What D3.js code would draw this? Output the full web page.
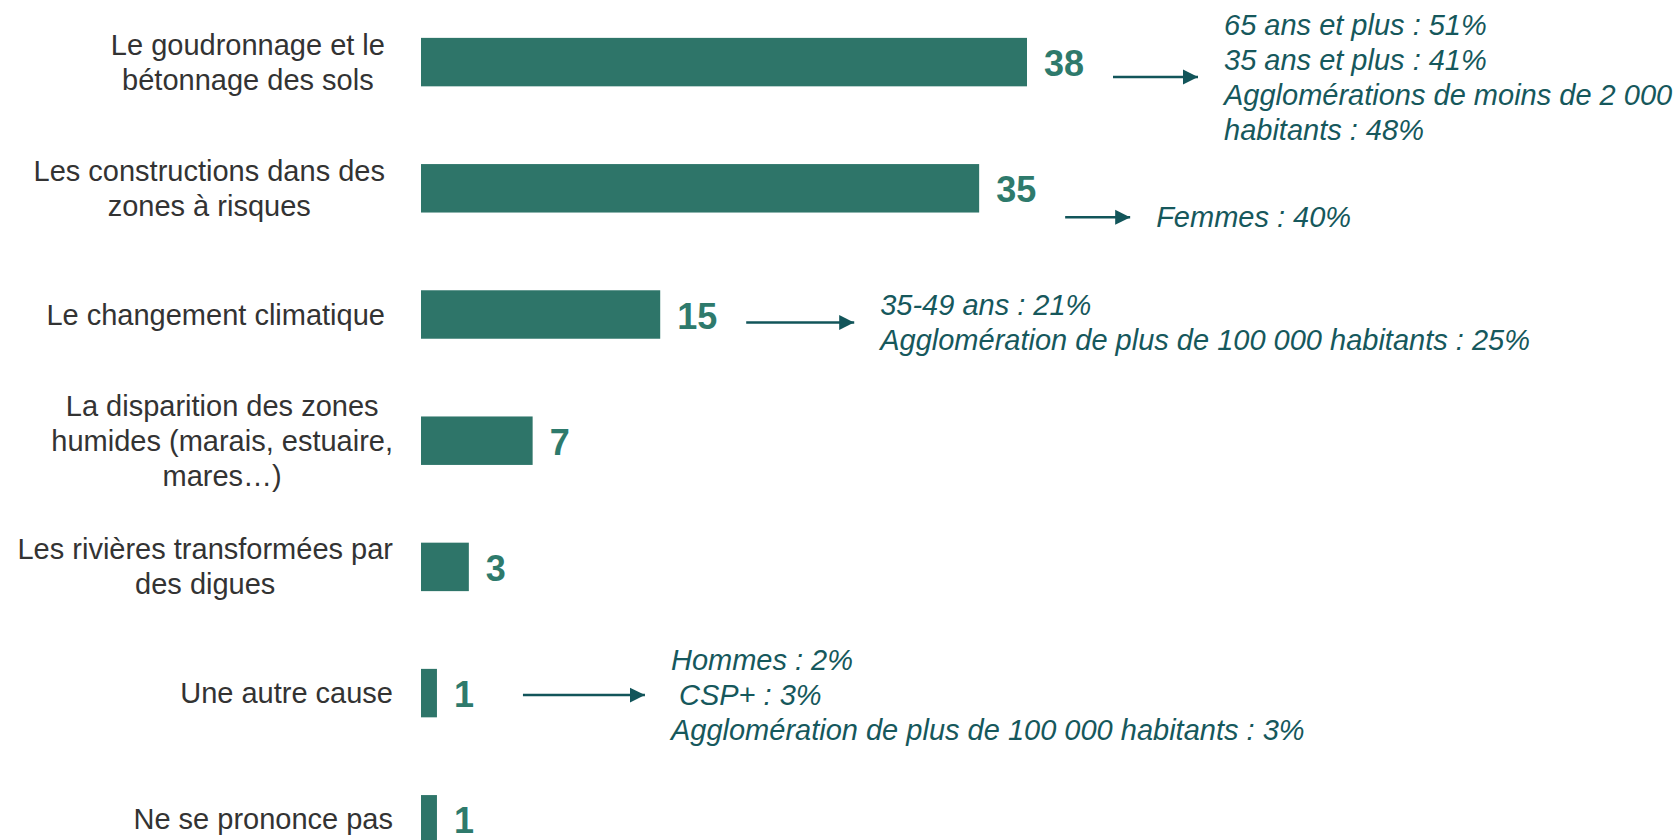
<!DOCTYPE html>
<html>
<head>
<meta charset="utf-8">
<script src="https://cdn.jsdelivr.net/npm/d3@7"></script>
<style>
    body { margin: 0; background: #fff; }
    svg { display: block; font-family: "Liberation Sans", Arial, sans-serif; }
</style>
</head>
<body>
<svg id="chart" width="1680" height="840"></svg>
<script>
// data
const categories = [
    ["Le goudronnage et le ", "bétonnage des sols "],
    ["Les constructions dans des ", "zones à risques "],
    ["Le changement climatique "],
    ["La disparition des zones", "humides (marais, estuaire,", "mares…)"],
    ["Les rivières transformées par", "des digues"],
    ["Une autre cause"],
    ["Ne se prononce pas"]
];
const values = [38, 35, 15, 7, 3, 1, 1];
const notes = [
    ["65 ans et plus : 51%", "35 ans et plus : 41%", "Agglomérations de moins de 2 000", "habitants : 48%"],
    ["Femmes : 40%"],
    ["35-49 ans : 21%", "Agglomération de plus de 100 000 habitants : 25%"],
    [],
    [],
    ["Hommes : 2%", " CSP+ : 3%", "Agglomération de plus de 100 000 habitants : 3%"],
    []
];

// layout (not data)
const barColor = "#2e7569";
const labelColor = "#2e7a6c";
const noteColor = "#16585c";
const arrowColor = "#12555a";
const catRight = 393;
const arrowGap = 86;
const arrowLen = [89, 69, 112, 0, 0, 126, 0];
const arrowDy = [15, 29, 8, 0, 0, 2, 0];

const svg = d3.select("#chart");

const x = d3.scaleLinear()
    .domain([0, 38])
    .range([421, 1027]);

const y = d3.scaleBand()
    .domain(d3.range(categories.length))
    .range([-1, 882.4])
    .paddingInner(0.616)
    .paddingOuter(0.308);

const defs = svg.append("defs");
defs.append("marker")
    .attr("id", "head")
    .attr("viewBox", "0 0 10 10")
    .attr("refX", 10)
    .attr("refY", 5)
    .attr("markerUnits", "userSpaceOnUse")
    .attr("markerWidth", 15)
    .attr("markerHeight", 16)
    .attr("orient", "auto")
    .append("path")
    .attr("d", "M0,0 L10,5 L0,10 Z")
    .attr("fill", arrowColor);

// bars
svg.selectAll("rect.bar")
    .data(values)
    .enter()
    .append("rect")
    .attr("class", "bar")
    .attr("x", x(0))
    .attr("y", (d, i) => y(i))
    .attr("width", d => x(d) - x(0))
    .attr("height", y.bandwidth())
    .attr("fill", barColor);

// value labels
svg.selectAll("text.val")
    .data(values)
    .enter()
    .append("text")
    .attr("class", "val")
    .attr("x", d => x(d) + 17)
    .attr("y", (d, i) => y(i) + y.bandwidth() / 2 + 14)
    .attr("font-size", 36)
    .attr("font-weight", "bold")
    .attr("fill", labelColor)
    .text(d => d);

// category labels: lines centred inside a right aligned block
const lineH = 35;
categories.forEach((lines, i) => {
    let g = svg.append("g");
    let cy = y(i) + y.bandwidth() / 2;
    let texts = g.selectAll("text")
        .data(lines)
        .enter()
        .append("text")
        .attr("font-size", 29)
        .attr("fill", "#333")
        .style("white-space", "pre")
        .attr("text-anchor", "middle")
        .attr("y", (d, j) => cy + (j - (lines.length - 1) / 2) * lineH + 10)
        .text(d => d);
    let w = d3.max(texts.nodes(), n => n.getComputedTextLength());
    texts.attr("x", catRight - w / 2);
});

// annotations with arrows
const noteH = 35;
notes.forEach((lines, i) => {
    if (!lines.length) return;
    let ay = y(i) + y.bandwidth() / 2 + arrowDy[i];
    let x0 = x(values[i]) + arrowGap;
    let x1 = x0 + arrowLen[i];
    svg.append("line")
        .attr("x1", x0)
        .attr("x2", x1 - 4)
        .attr("y1", ay)
        .attr("y2", ay)
        .attr("stroke", arrowColor)
        .attr("stroke-width", 2.5)
        .attr("marker-end", "url(#head)");
    svg.append("g")
        .selectAll("text")
        .data(lines)
        .enter()
        .append("text")
        .attr("x", x1 + 22)
        .attr("y", (d, j) => ay + (j - (lines.length - 1) / 2) * noteH + 10)
        .attr("font-size", 29)
        .attr("font-style", "italic")
        .attr("fill", noteColor)
        .style("white-space", "pre")
        .text(d => d);
});
</script>
</body>
</html>
